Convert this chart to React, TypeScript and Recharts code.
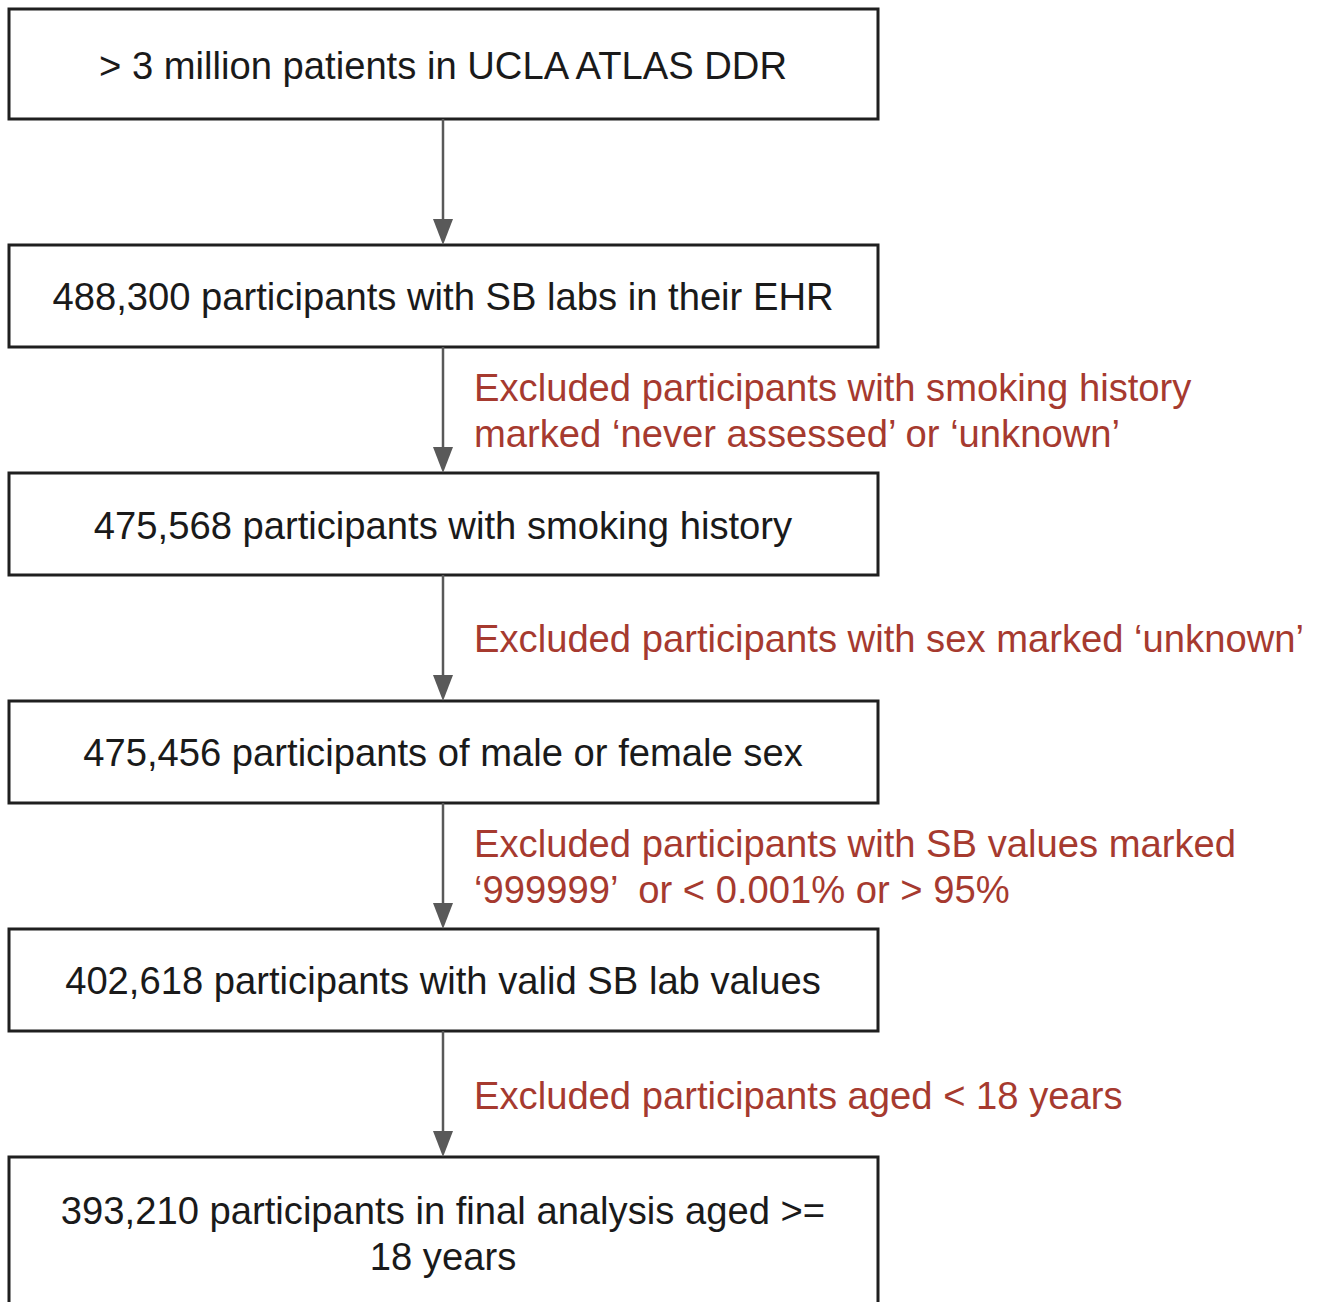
import React from "react";
import {
  ComposedChart,
  XAxis,
  YAxis,
  Scatter,
  ReferenceArea,
  ReferenceLine,
  ReferenceDot,
} from "recharts";

// flowchart content
const boxLabels: string[][] = [
  ["> 3 million patients in UCLA ATLAS DDR"],
  ["488,300 participants with SB labs in their EHR"],
  ["475,568 participants with smoking history"],
  ["475,456 participants of male or female sex"],
  ["402,618 participants with valid SB lab values"],
  ["393,210 participants in final analysis aged >=", "18 years"],
];

const exclusionNotes: string[][] = [
  [],
  ["Excluded participants with smoking history", "marked \u2018never assessed\u2019 or \u2018unknown\u2019"],
  ["Excluded participants with sex marked \u2018unknown\u2019"],
  ["Excluded participants with SB values marked", "\u2018999999\u2019  or < 0.001% or > 95%"],
  ["Excluded participants aged < 18 years"],
];

// layout in pixel units (the axes map 1:1 onto the canvas)
const W = 1317;
const H = 1302;
const boxLeft = 9;
const boxRight = 878;
const boxTop = [9, 245, 473, 701, 929, 1157];
const boxBottom = [119, 347, 575, 803, 1031, 1320];
const boxTextY = [65, 296, 525, 752, 980, 1233];
const noteX = 474;
const noteY = [0, 410, 638, 866, 1095];
const arrowX = 443;
const headLen = 26;

const FONT = "'Liberation Sans', Arial, sans-serif";
const FONT_SIZE = 38.2;
const LINE_H = 46;

const boxData = boxLabels.map((lines, i) => ({ x: arrowX, y: boxTextY[i], lines }));
const noteData = exclusionNotes
  .map((lines, i) => ({ x: noteX, y: noteY[i], lines }))
  .filter((d) => d.lines.length > 0);

function TextBlock(props: any) {
  const { cx, cy, payload, anchor, color } = props;
  const lines: string[] = payload.lines;
  const y0 = cy - ((lines.length - 1) * LINE_H) / 2;
  return (
    <text
      x={cx}
      y={y0}
      textAnchor={anchor}
      dominantBaseline="central"
      fontFamily={FONT}
      fontSize={FONT_SIZE}
      fill={color}
      style={{ whiteSpace: "pre" }}
    >
      {lines.map((l, i) => (
        <tspan key={i} x={cx} y={y0 + i * LINE_H}>
          {l}
        </tspan>
      ))}
    </text>
  );
}

function ArrowHead(props: any) {
  const { cx, cy } = props;
  return (
    <path
      d={`M${cx - 10},${cy - headLen} L${cx + 10},${cy - headLen} L${cx},${cy} Z`}
      fill="#595959"
    />
  );
}

export default function App() {
  return (
    <div style={{ position: "absolute", left: 0, top: 0, background: "#fff" }}>
      <ComposedChart
        width={W}
        height={H}
        data={boxData}
        margin={{ top: 0, right: 0, bottom: 0, left: 0 }}
      >
        <XAxis type="number" dataKey="x" domain={[0, W]} hide allowDataOverflow />
        <YAxis type="number" dataKey="y" domain={[0, H]} reversed hide allowDataOverflow />

        {boxTop.slice(1).map((top, i) => (
          <ReferenceLine
            key={`l${i}`}
            segment={[
              { x: arrowX, y: boxBottom[i] },
              { x: arrowX, y: top - headLen + 2 },
            ]}
            stroke="#595959"
            strokeWidth={2.5}
            ifOverflow="visible"
          />
        ))}
        {boxTop.slice(1).map((top, i) => (
          <ReferenceDot
            key={`h${i}`}
            x={arrowX}
            y={top}
            shape={ArrowHead}
            ifOverflow="visible"
          />
        ))}

        {boxTop.map((top, i) => (
          <ReferenceArea
            key={`b${i}`}
            x1={boxLeft}
            x2={boxRight}
            y1={top}
            y2={boxBottom[i]}
            fill="#fff"
            fillOpacity={0}
            stroke="#1f1f1f"
            strokeWidth={3}
            ifOverflow="visible"
          />
        ))}

        <Scatter
          data={boxData}
          isAnimationActive={false}
          shape={(p: any) => <TextBlock {...p} anchor="middle" color="#1a1a1a" />}
        />
        <Scatter
          data={noteData}
          isAnimationActive={false}
          shape={(p: any) => <TextBlock {...p} anchor="start" color="#a63a2f" />}
        />
      </ComposedChart>
    </div>
  );
}
